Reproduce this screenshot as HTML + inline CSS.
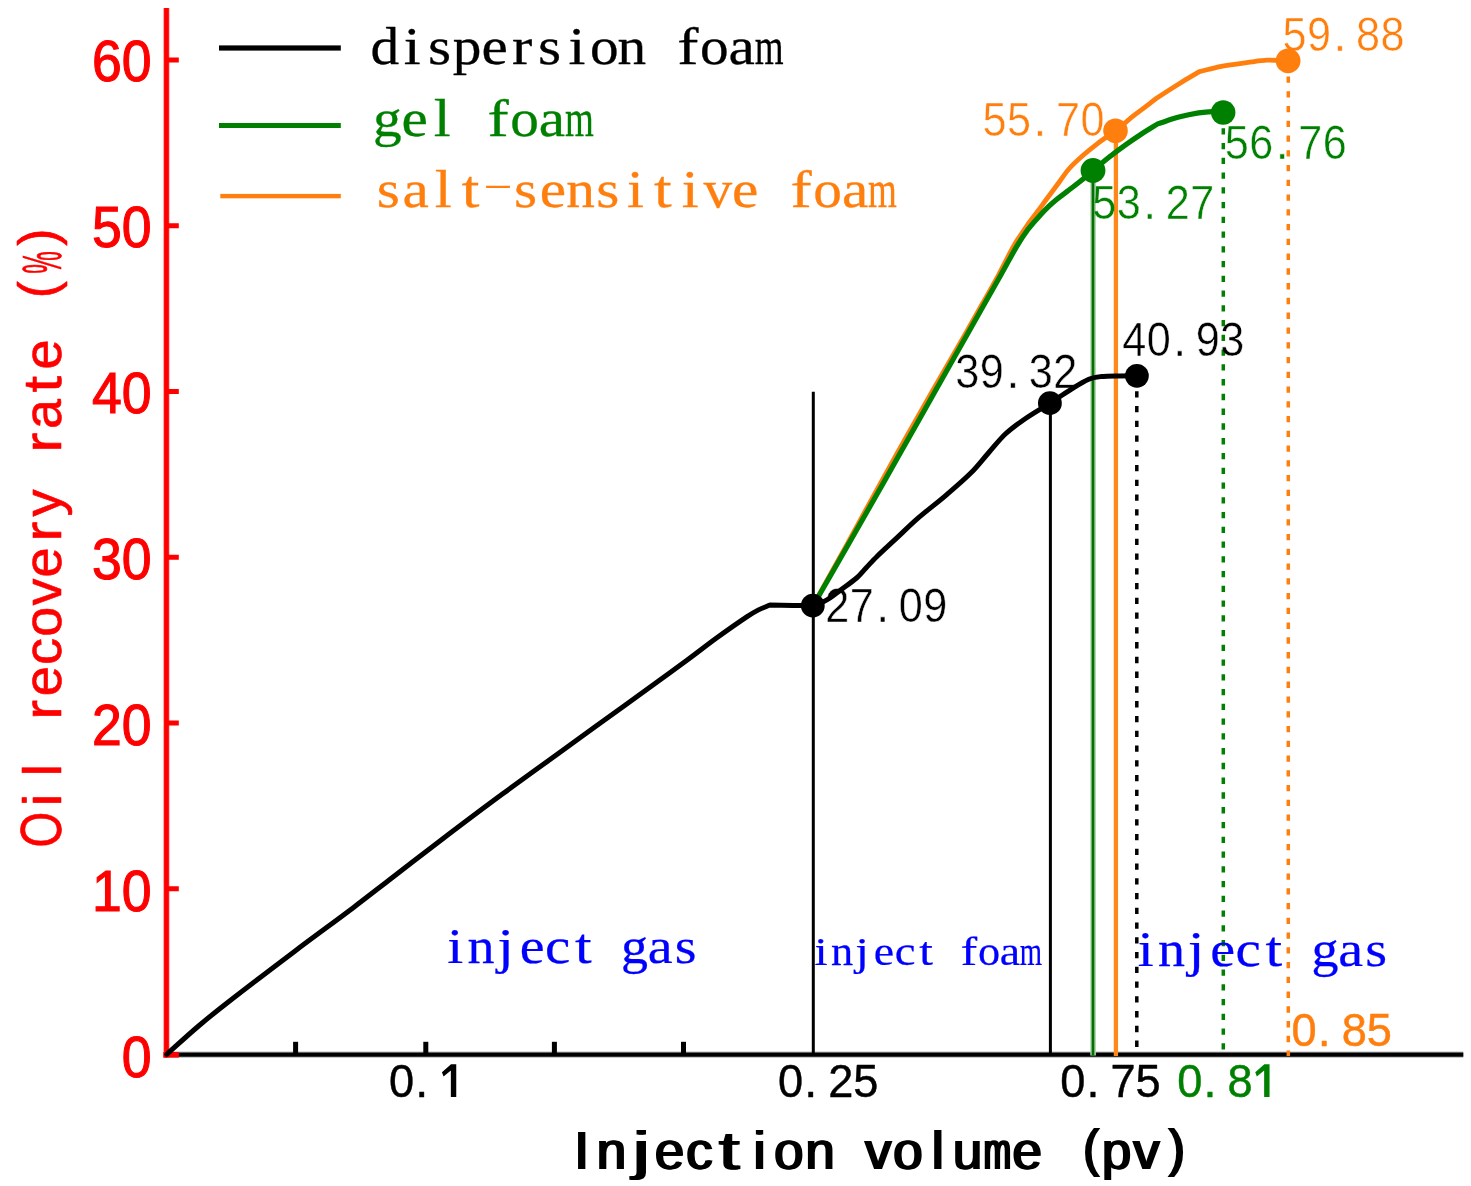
<!DOCTYPE html>
<html><head><meta charset="utf-8"><title>Oil recovery rate vs injection volume</title>
<style>html,body{margin:0;padding:0;background:#fff;}body{width:1471px;height:1186px;overflow:hidden;font-family:"Liberation Sans",sans-serif;}svg{display:block;filter:blur(0.55px);}</style>
</head><body>
<svg width="1471" height="1186" viewBox="0 0 1471 1186">
<rect x="163.3" y="8" width="6.2" height="1049.6" fill="#ff8a8a"/>
<rect x="164.1" y="8" width="4.7" height="1049.6" fill="#ff0000"/>
<rect x="168" y="57.50" width="10.8" height="5" fill="#ff0000"/>
<rect x="168" y="223.25" width="10.8" height="5" fill="#ff0000"/>
<rect x="168" y="389.00" width="10.8" height="5" fill="#ff0000"/>
<rect x="168" y="554.75" width="10.8" height="5" fill="#ff0000"/>
<rect x="168" y="720.50" width="10.8" height="5" fill="#ff0000"/>
<rect x="168" y="886.25" width="10.8" height="5" fill="#ff0000"/>
<rect x="168" y="1051.6" width="1295.3" height="6.0" fill="#a6a6a6"/>
<rect x="168" y="1052.6" width="1295.3" height="4.1" fill="#000000"/>
<rect x="293.10" y="1041.8" width="5" height="12" fill="#000000"/>
<rect x="423.30" y="1041.8" width="5" height="12" fill="#000000"/>
<rect x="551.90" y="1041.8" width="5" height="12" fill="#000000"/>
<rect x="681.00" y="1041.8" width="5" height="12" fill="#000000"/>
<rect x="163.3" y="1052" width="15.6" height="5.6" fill="#ff0000"/>
<g font-family='"Liberation Sans", sans-serif' font-size="57" fill="#ff0000" stroke="#ff0000" stroke-width="1.1" text-anchor="end"><text transform="translate(151.6,81.00) scale(0.94,1)">60</text><text transform="translate(151.6,247.08) scale(0.94,1)">50</text><text transform="translate(151.6,413.16) scale(0.94,1)">40</text><text transform="translate(151.6,579.24) scale(0.94,1)">30</text><text transform="translate(151.6,745.32) scale(0.94,1)">20</text><text transform="translate(151.6,911.40) scale(0.94,1)">10</text><text transform="translate(151.6,1077.48) scale(0.94,1)">0</text></g>
<line x1="813.3" y1="391.8" x2="813.3" y2="1054" stroke="#000000" stroke-width="3.0"/>
<line x1="1050.4" y1="403" x2="1050.4" y2="1054" stroke="#000000" stroke-width="3.0"/>
<line x1="1093.1" y1="171" x2="1093.1" y2="1055.5" stroke="#a9d6a9" stroke-width="5.6"/>
<line x1="1093.0" y1="171" x2="1093.0" y2="1055.5" stroke="#056e05" stroke-width="2.7"/>
<line x1="1115.9" y1="131" x2="1115.9" y2="1056" stroke="#ff8818" stroke-width="4.3"/>
<line x1="1136.8" y1="376.4" x2="1136.8" y2="1050" stroke="#000000" stroke-width="3.5" stroke-dasharray="6.3 8.46"/>
<line x1="1223.3" y1="113.4" x2="1223.3" y2="1052" stroke="#008000" stroke-width="3.5" stroke-dasharray="6.3 8.46"/>
<line x1="1288.3" y1="61.7" x2="1288.3" y2="1056" stroke="#ff7f0e" stroke-width="3.5" stroke-dasharray="6.3 8.46"/>
<path d="M813.8,604.3 C819.3,594.3 824.8,584.3 830.3,574.3 C835.8,564.3 841.5,554.3 847.0,544.3 C852.5,534.3 857.9,524.3 863.4,514.3 C868.9,504.3 874.4,494.3 879.9,484.3 C885.4,474.3 890.9,464.3 896.5,454.3 C902.1,444.3 907.9,434.3 913.6,424.3 C919.3,414.3 924.9,404.3 930.6,394.3 C936.3,384.3 942.1,374.3 947.9,364.3 C953.7,354.3 959.5,344.3 965.2,334.3 C970.9,324.3 976.5,314.3 982.1,304.3 C987.7,294.3 993.4,284.4 998.9,274.3 C1004.2,264.6 1008.8,254.5 1014.3,245.0 C1018.5,237.8 1023.3,231.0 1028.0,224.2 C1031.3,219.4 1035.0,214.9 1038.5,210.2 C1041.4,206.3 1044.1,202.4 1047.0,198.5 C1049.0,195.8 1051.0,193.2 1053.0,190.5 C1055.3,187.3 1057.7,184.2 1060.0,181.0 C1063.1,176.8 1065.8,172.4 1069.3,168.5 C1073.7,163.6 1078.7,159.2 1083.7,154.8 C1088.0,151.0 1092.6,147.3 1097.2,143.8 C1103.1,139.3 1109.4,135.3 1115.3,130.8 C1121.8,125.8 1127.9,120.3 1134.3,115.2 C1139.4,111.1 1144.8,107.4 1150.0,103.4 C1152.3,101.7 1154.5,99.7 1156.9,98.1 C1164.6,92.9 1172.5,87.9 1180.4,83.0 C1186.7,79.1 1193.1,75.4 1199.4,71.6 L1199.4,71.6 C1206.7,69.8 1214.0,67.7 1221.4,66.3 C1231.4,64.4 1241.6,63.3 1251.7,61.9 C1256.8,61.2 1261.8,60.4 1266.9,60.2 C1273.9,60.0 1281.0,60.6 1288.0,60.8" fill="none" stroke="#ff7f0e" stroke-width="4.8" stroke-linejoin="round" stroke-linecap="round"/>
<path d="M813.8,604.5 C819.6,594.5 825.3,584.5 831.1,574.5 C836.8,564.5 842.6,554.5 848.3,544.5 C854.0,534.5 859.7,524.5 865.4,514.5 C871.1,504.5 876.8,494.5 882.5,484.5 C888.2,474.5 893.8,464.5 899.4,454.5 C905.1,444.5 910.7,434.5 916.4,424.5 C922.0,414.5 927.7,404.5 933.3,394.5 C938.9,384.5 944.6,374.5 950.2,364.5 C955.9,354.5 961.5,344.5 967.2,334.5 C972.8,324.5 978.5,314.5 984.1,304.5 C989.8,294.5 995.5,284.5 1001.1,274.5 C1006.3,265.3 1011.2,255.8 1016.6,246.7 C1020.0,240.9 1023.7,235.2 1027.7,229.8 C1031.3,224.9 1035.4,220.5 1039.5,216.0 C1042.5,212.6 1045.7,209.4 1049.0,206.2 C1051.6,203.7 1054.4,201.3 1057.2,199.0 C1061.0,195.9 1065.1,193.0 1069.0,190.0 C1072.7,187.2 1076.4,184.5 1080.0,181.6 C1084.4,178.0 1088.6,174.2 1093.0,170.5 C1098.3,166.1 1103.6,161.6 1109.0,157.3 C1114.5,153.0 1120.2,148.8 1125.9,144.7 C1130.5,141.4 1135.2,138.1 1140.0,135.0 C1145.8,131.2 1151.8,127.6 1157.7,123.9 L1157.7,123.9 C1164.8,121.6 1171.7,119.0 1178.9,117.1 C1185.4,115.4 1192.0,114.0 1198.6,112.9 C1203.1,112.2 1207.7,111.7 1212.3,111.6 C1216.0,111.5 1219.6,112.1 1223.3,112.4" fill="none" stroke="#008000" stroke-width="5.2" stroke-linejoin="round" stroke-linecap="round"/>
<path d="M166.8,1054.3 C177.2,1045.0 187.4,1035.5 198.0,1026.5 C208.4,1017.6 219.1,1009.1 229.9,1000.7 C251.3,984.1 272.9,967.7 294.5,951.4 C314.2,936.5 334.2,922.1 353.9,907.2 C365.3,898.6 376.6,889.7 387.9,881.0 C405.7,867.3 423.3,853.6 441.2,840.0 C461.5,824.6 481.9,809.2 502.4,794.1 C522.6,779.2 543.1,764.6 563.5,749.8 C583.9,735.0 604.3,720.2 624.7,705.4 C645.1,690.6 665.6,676.0 685.9,661.1 C696.2,653.6 706.2,645.6 716.5,638.1 C726.6,630.8 736.8,623.6 747.1,616.7 C750.8,614.2 754.6,611.9 758.5,609.9 C762.2,608.0 766.2,606.6 770.0,605.0 L770.0,605.0 C777.7,605.1 785.3,605.3 793.0,605.4 C799.6,605.5 806.2,605.7 812.8,605.8 L812.8,605.8 C815.9,604.7 819.0,603.8 822.0,602.4 C824.8,601.1 827.5,599.7 830.0,598.0 C833.5,595.7 836.7,593.0 840.0,590.5 C845.5,586.3 851.4,582.5 856.6,578.0 C860.1,575.0 862.9,571.3 866.0,568.0 C869.6,564.2 873.0,560.3 876.7,556.7 C882.5,551.1 888.5,545.7 894.4,540.2 C902.3,532.9 909.9,525.3 918.0,518.2 C927.4,510.1 937.4,502.7 946.8,494.6 C955.1,487.5 963.5,480.4 971.3,472.6 C977.4,466.5 982.7,459.5 988.4,453.0 C994.1,446.6 999.3,439.7 1005.6,433.8 C1011.6,428.2 1018.4,423.4 1025.2,418.7 C1033.2,413.2 1041.7,408.4 1049.9,403.2 C1056.4,399.1 1062.7,394.6 1069.2,390.6 C1075.6,386.7 1081.9,382.3 1088.8,379.3 C1092.6,377.6 1096.9,377.1 1101.0,376.6 C1107.0,375.9 1113.0,376.0 1119.0,375.9 C1125.0,375.8 1130.9,375.8 1136.9,375.8" fill="none" stroke="#000000" stroke-width="5.0" stroke-linejoin="round" stroke-linecap="round"/>
<circle cx="812.8" cy="605.7" r="11.9" fill="#000000"/>
<circle cx="1049.9" cy="403.2" r="11.9" fill="#000000"/>
<circle cx="1136.9" cy="375.8" r="11.9" fill="#000000"/>
<circle cx="1093.0" cy="170.5" r="12.4" fill="#008000"/>
<circle cx="1223.2" cy="112.5" r="12.2" fill="#008000"/>
<circle cx="1115.5" cy="130.8" r="12.3" fill="#ff7f0e"/>
<circle cx="1288.1" cy="60.8" r="12.4" fill="#ff7f0e"/>
<rect x="219" y="45.40" width="121.8" height="5.2" fill="#000000"/>
<rect x="219" y="123.00" width="121.8" height="5.0" fill="#008000"/>
<rect x="220.3" y="193.90" width="120.5" height="4.4" fill="#ff7f0e"/>
<g font-family='"Liberation Serif", serif' font-size="53" font-weight="normal" fill="#000000" text-anchor="middle" stroke="#000000" stroke-width="0.3" stroke-linejoin="round"><text transform="translate(384.73,64.00) scale(1.080,1.000)">d</text><text transform="translate(412.19,64.00) scale(1.150,1.000)">i</text><text transform="translate(439.65,64.00) scale(1.120,1.000)">s</text><text transform="translate(467.11,64.00) scale(1.080,1.000)">p</text><text transform="translate(494.57,64.00) scale(1.120,1.000)">e</text><text transform="translate(522.03,64.00) scale(1.150,1.000)">r</text><text transform="translate(549.49,64.00) scale(1.120,1.000)">s</text><text transform="translate(576.95,64.00) scale(1.150,1.000)">i</text><text transform="translate(604.41,64.00) scale(1.080,1.000)">o</text><text transform="translate(631.87,64.00) scale(1.080,1.000)">n</text><text transform="translate(687.79,64.00) scale(1.200,1.000)">f</text><text transform="translate(714.25,64.00) scale(1.080,1.000)">o</text><text transform="translate(741.71,64.00) scale(1.120,1.000)">a</text><text transform="translate(769.17,64.00) scale(0.700,1.000)">m</text></g>
<g font-family='"Liberation Serif", serif' font-size="53" font-weight="normal" fill="#008000" text-anchor="middle" stroke="#008000" stroke-width="0.3" stroke-linejoin="round"><text transform="translate(387.23,136.30) scale(1.080,1.000)">g</text><text transform="translate(414.69,136.30) scale(1.120,1.000)">e</text><text transform="translate(442.15,136.30) scale(1.150,1.000)">l</text><text transform="translate(498.07,136.30) scale(1.200,1.000)">f</text><text transform="translate(524.53,136.30) scale(1.080,1.000)">o</text><text transform="translate(551.99,136.30) scale(1.120,1.000)">a</text><text transform="translate(579.45,136.30) scale(0.700,1.000)">m</text></g>
<g font-family='"Liberation Serif", serif' font-size="53" font-weight="normal" fill="#ff7f0e" text-anchor="middle" stroke="#ff7f0e" stroke-width="0.3" stroke-linejoin="round"><text transform="translate(388.23,207.40) scale(1.120,1.000)">s</text><text transform="translate(415.69,207.40) scale(1.120,1.000)">a</text><text transform="translate(443.15,207.40) scale(1.150,1.000)">l</text><text transform="translate(470.61,207.40) scale(1.200,1.000)">t</text><text transform="translate(498.07,193.90) scale(1.700,0.550)">-</text><text transform="translate(525.53,207.40) scale(1.120,1.000)">s</text><text transform="translate(552.99,207.40) scale(1.120,1.000)">e</text><text transform="translate(580.45,207.40) scale(1.080,1.000)">n</text><text transform="translate(607.91,207.40) scale(1.120,1.000)">s</text><text transform="translate(635.37,207.40) scale(1.150,1.000)">i</text><text transform="translate(662.83,207.40) scale(1.200,1.000)">t</text><text transform="translate(690.29,207.40) scale(1.150,1.000)">i</text><text transform="translate(717.75,207.40) scale(1.080,1.000)">v</text><text transform="translate(745.21,207.40) scale(1.120,1.000)">e</text><text transform="translate(801.13,207.40) scale(1.200,1.000)">f</text><text transform="translate(827.59,207.40) scale(1.080,1.000)">o</text><text transform="translate(855.05,207.40) scale(1.120,1.000)">a</text><text transform="translate(882.51,207.40) scale(0.700,1.000)">m</text></g>
<g font-family='"Liberation Serif", serif' font-size="50" font-weight="normal" fill="#0000ff" text-anchor="middle" stroke="#0000ff" stroke-width="0.25" stroke-linejoin="round"><text transform="translate(455.30,962.60) scale(1.150,1.000)">i</text><text transform="translate(480.90,962.60) scale(1.080,1.000)">n</text><text transform="translate(505.50,962.60) scale(1.200,1.000)">j</text><text transform="translate(532.10,962.60) scale(1.120,1.000)">e</text><text transform="translate(557.70,962.60) scale(1.140,1.000)">c</text><text transform="translate(583.30,962.60) scale(1.200,1.000)">t</text><text transform="translate(634.50,962.60) scale(1.080,1.000)">g</text><text transform="translate(660.10,962.60) scale(1.120,1.000)">a</text><text transform="translate(685.70,962.60) scale(1.120,1.000)">s</text></g>
<g font-family='"Liberation Serif", serif' font-size="41" font-weight="normal" fill="#0000ff" text-anchor="middle" stroke="#0000ff" stroke-width="0.25" stroke-linejoin="round"><text transform="translate(821.00,964.90) scale(1.150,1.000)">i</text><text transform="translate(842.00,964.90) scale(1.080,1.000)">n</text><text transform="translate(862.00,964.90) scale(1.200,1.000)">j</text><text transform="translate(884.00,964.90) scale(1.120,1.000)">e</text><text transform="translate(905.00,964.90) scale(1.140,1.000)">c</text><text transform="translate(926.00,964.90) scale(1.200,1.000)">t</text><text transform="translate(969.00,964.90) scale(1.200,1.000)">f</text><text transform="translate(989.00,964.90) scale(1.080,1.000)">o</text><text transform="translate(1010.00,964.90) scale(1.120,1.000)">a</text><text transform="translate(1031.00,964.90) scale(0.700,1.000)">m</text></g>
<g font-family='"Liberation Serif", serif' font-size="50" font-weight="normal" fill="#0000ff" text-anchor="middle" stroke="#0000ff" stroke-width="0.25" stroke-linejoin="round"><text transform="translate(1145.80,965.60) scale(1.150,1.000)">i</text><text transform="translate(1171.40,965.60) scale(1.080,1.000)">n</text><text transform="translate(1196.00,965.60) scale(1.200,1.000)">j</text><text transform="translate(1222.60,965.60) scale(1.120,1.000)">e</text><text transform="translate(1248.20,965.60) scale(1.140,1.000)">c</text><text transform="translate(1273.80,965.60) scale(1.200,1.000)">t</text><text transform="translate(1325.00,965.60) scale(1.080,1.000)">g</text><text transform="translate(1350.60,965.60) scale(1.120,1.000)">a</text><text transform="translate(1376.20,965.60) scale(1.120,1.000)">s</text></g>
<mask id="m1" maskUnits="userSpaceOnUse" x="812.9" y="573.8" width="146.5" height="64.8"><g font-family='"Liberation Sans", sans-serif' font-size="48" font-weight="normal" fill="#fff" stroke="#000" stroke-width="0.6" text-anchor="middle"><text transform="translate(837.15,621.80) scale(0.900,1.000)">2</text><text transform="translate(861.65,621.80) scale(0.900,1.000)">7</text><text transform="translate(882.65,621.80) scale(1.000,1.000)">.</text><text transform="translate(910.65,621.80) scale(0.900,1.000)">0</text><text transform="translate(935.15,621.80) scale(0.900,1.000)">9</text></g></mask>
<rect x="812.9" y="573.8" width="146.5" height="64.8" fill="#000000" mask="url(#m1)"/>
<mask id="m2" maskUnits="userSpaceOnUse" x="943.1" y="340.4" width="146.5" height="64.8"><g font-family='"Liberation Sans", sans-serif' font-size="48" font-weight="normal" fill="#fff" stroke="#000" stroke-width="0.6" text-anchor="middle"><text transform="translate(967.35,388.40) scale(0.900,1.000)">3</text><text transform="translate(991.85,388.40) scale(0.900,1.000)">9</text><text transform="translate(1012.85,388.40) scale(1.000,1.000)">.</text><text transform="translate(1040.85,388.40) scale(0.900,1.000)">3</text><text transform="translate(1065.35,388.40) scale(0.900,1.000)">2</text></g></mask>
<rect x="943.1" y="340.4" width="146.5" height="64.8" fill="#000000" mask="url(#m2)"/>
<mask id="m3" maskUnits="userSpaceOnUse" x="1109.9" y="308.3" width="146.5" height="64.8"><g font-family='"Liberation Sans", sans-serif' font-size="48" font-weight="normal" fill="#fff" stroke="#000" stroke-width="0.6" text-anchor="middle"><text transform="translate(1134.15,356.30) scale(0.900,1.000)">4</text><text transform="translate(1158.65,356.30) scale(0.900,1.000)">0</text><text transform="translate(1179.65,356.30) scale(1.000,1.000)">.</text><text transform="translate(1207.65,356.30) scale(0.900,1.000)">9</text><text transform="translate(1232.15,356.30) scale(0.900,1.000)">3</text></g></mask>
<rect x="1109.9" y="308.3" width="146.5" height="64.8" fill="#000000" mask="url(#m3)"/>
<mask id="m4" maskUnits="userSpaceOnUse" x="1079.9" y="171.2" width="146.5" height="64.8"><g font-family='"Liberation Sans", sans-serif' font-size="48" font-weight="normal" fill="#fff" stroke="#000" stroke-width="0.6" text-anchor="middle"><text transform="translate(1104.15,219.20) scale(0.900,1.000)">5</text><text transform="translate(1128.65,219.20) scale(0.900,1.000)">3</text><text transform="translate(1149.65,219.20) scale(1.000,1.000)">.</text><text transform="translate(1177.65,219.20) scale(0.900,1.000)">2</text><text transform="translate(1202.15,219.20) scale(0.900,1.000)">7</text></g></mask>
<rect x="1079.9" y="171.2" width="146.5" height="64.8" fill="#008000" mask="url(#m4)"/>
<mask id="m5" maskUnits="userSpaceOnUse" x="1212.4" y="111.4" width="146.5" height="64.8"><g font-family='"Liberation Sans", sans-serif' font-size="48" font-weight="normal" fill="#fff" stroke="#000" stroke-width="0.6" text-anchor="middle"><text transform="translate(1236.65,159.40) scale(0.900,1.000)">5</text><text transform="translate(1261.15,159.40) scale(0.900,1.000)">6</text><text transform="translate(1282.15,159.40) scale(1.000,1.000)">.</text><text transform="translate(1310.15,159.40) scale(0.900,1.000)">7</text><text transform="translate(1334.65,159.40) scale(0.900,1.000)">6</text></g></mask>
<rect x="1212.4" y="111.4" width="146.5" height="64.8" fill="#008000" mask="url(#m5)"/>
<mask id="m6" maskUnits="userSpaceOnUse" x="970.2" y="88.2" width="146.5" height="64.8"><g font-family='"Liberation Sans", sans-serif' font-size="48" font-weight="normal" fill="#fff" stroke="#000" stroke-width="0.6" text-anchor="middle"><text transform="translate(994.45,136.20) scale(0.900,1.000)">5</text><text transform="translate(1018.95,136.20) scale(0.900,1.000)">5</text><text transform="translate(1039.95,136.20) scale(1.000,1.000)">.</text><text transform="translate(1067.95,136.20) scale(0.900,1.000)">7</text><text transform="translate(1092.45,136.20) scale(0.900,1.000)">0</text></g></mask>
<rect x="970.2" y="88.2" width="146.5" height="64.8" fill="#ff7f0e" mask="url(#m6)"/>
<mask id="m7" maskUnits="userSpaceOnUse" x="1270.2" y="2.8" width="146.5" height="64.8"><g font-family='"Liberation Sans", sans-serif' font-size="48" font-weight="normal" fill="#fff" stroke="#000" stroke-width="0.6" text-anchor="middle"><text transform="translate(1294.45,50.80) scale(0.900,1.000)">5</text><text transform="translate(1318.95,50.80) scale(0.900,1.000)">9</text><text transform="translate(1339.95,50.80) scale(1.000,1.000)">.</text><text transform="translate(1367.95,50.80) scale(0.900,1.000)">8</text><text transform="translate(1392.45,50.80) scale(0.900,1.000)">8</text></g></mask>
<rect x="1270.2" y="2.8" width="146.5" height="64.8" fill="#ff7f0e" mask="url(#m7)"/>
<g font-family='"Liberation Sans", sans-serif' font-size="46.6" font-weight="normal" fill="#ff7f0e" text-anchor="middle" stroke="#ff7f0e" stroke-width="0.45" stroke-linejoin="round"><text transform="translate(1304.05,1045.90) scale(0.970,1.000)">0</text><text transform="translate(1324.25,1045.90) scale(1.000,1.000)">.</text><text transform="translate(1354.25,1045.90) scale(0.970,1.000)">8</text><text transform="translate(1379.35,1045.90) scale(0.970,1.000)">5</text></g>
<g font-family='"Liberation Sans", sans-serif' font-size="46.6" font-weight="normal" fill="#000000" text-anchor="middle" stroke="#000000" stroke-width="0.45" stroke-linejoin="round"><text transform="translate(401.55,1096.60) scale(0.970,1.000)">0</text><text transform="translate(421.75,1096.60) scale(1.000,1.000)">.</text><polygon points="451.05,1064.30 456.25,1064.30 456.25,1096.90 450.85,1096.90 450.85,1070.60 443.55,1076.40 441.95,1072.30" stroke="none"/></g>
<g font-family='"Liberation Sans", sans-serif' font-size="46.6" font-weight="normal" fill="#000000" text-anchor="middle" stroke="#000000" stroke-width="0.45" stroke-linejoin="round"><text transform="translate(790.55,1096.60) scale(0.970,1.000)">0</text><text transform="translate(810.75,1096.60) scale(1.000,1.000)">.</text><text transform="translate(840.75,1096.60) scale(0.970,1.000)">2</text><text transform="translate(865.85,1096.60) scale(0.970,1.000)">5</text></g>
<g font-family='"Liberation Sans", sans-serif' font-size="46.6" font-weight="normal" fill="#000000" text-anchor="middle" stroke="#000000" stroke-width="0.45" stroke-linejoin="round"><text transform="translate(1072.75,1096.60) scale(0.970,1.000)">0</text><text transform="translate(1092.95,1096.60) scale(1.000,1.000)">.</text><text transform="translate(1122.95,1096.60) scale(0.970,1.000)">7</text><text transform="translate(1148.05,1096.60) scale(0.970,1.000)">5</text></g>
<g font-family='"Liberation Sans", sans-serif' font-size="46.6" font-weight="normal" fill="#008000" text-anchor="middle" stroke="#008000" stroke-width="0.45" stroke-linejoin="round"><text transform="translate(1189.75,1096.60) scale(0.970,1.000)">0</text><text transform="translate(1209.95,1096.60) scale(1.000,1.000)">.</text><text transform="translate(1239.95,1096.60) scale(0.970,1.000)">8</text><polygon points="1264.35,1064.30 1269.55,1064.30 1269.55,1096.90 1264.15,1096.90 1264.15,1070.60 1256.85,1076.40 1255.25,1072.30" stroke="none"/></g>
<g font-family='"Liberation Sans", sans-serif' font-size="54.5" font-weight="normal" fill="#000000" text-anchor="middle"><text transform="translate(580.50,1168.70) scale(1.000,1.000)">I</text><text transform="translate(581.70,1168.70) scale(1.000,1.000)">I</text><text transform="translate(582.90,1168.70) scale(1.000,1.000)">I</text><text transform="translate(610.30,1168.70) scale(0.970,1.000)">n</text><text transform="translate(611.50,1168.70) scale(0.970,1.000)">n</text><text transform="translate(612.70,1168.70) scale(0.970,1.000)">n</text><text transform="translate(640.10,1168.70) scale(1.450,1.000)">j</text><text transform="translate(641.30,1168.70) scale(1.450,1.000)">j</text><text transform="translate(642.50,1168.70) scale(1.450,1.000)">j</text><text transform="translate(668.40,1168.70) scale(0.970,1.000)">e</text><text transform="translate(669.60,1168.70) scale(0.970,1.000)">e</text><text transform="translate(670.80,1168.70) scale(0.970,1.000)">e</text><text transform="translate(698.20,1168.70) scale(0.970,1.000)">c</text><text transform="translate(699.40,1168.70) scale(0.970,1.000)">c</text><text transform="translate(700.60,1168.70) scale(0.970,1.000)">c</text><text transform="translate(728.00,1168.70) scale(1.400,1.000)">t</text><text transform="translate(729.20,1168.70) scale(1.400,1.000)">t</text><text transform="translate(730.40,1168.70) scale(1.400,1.000)">t</text><text transform="translate(758.30,1168.70) scale(1.000,1.000)">i</text><text transform="translate(759.50,1168.70) scale(1.000,1.000)">i</text><text transform="translate(760.70,1168.70) scale(1.000,1.000)">i</text><text transform="translate(787.60,1168.70) scale(0.970,1.000)">o</text><text transform="translate(788.80,1168.70) scale(0.970,1.000)">o</text><text transform="translate(790.00,1168.70) scale(0.970,1.000)">o</text><text transform="translate(818.90,1168.70) scale(0.970,1.000)">n</text><text transform="translate(820.10,1168.70) scale(0.970,1.000)">n</text><text transform="translate(821.30,1168.70) scale(0.970,1.000)">n</text><text transform="translate(877.00,1168.70) scale(0.970,1.000)">v</text><text transform="translate(878.20,1168.70) scale(0.970,1.000)">v</text><text transform="translate(879.40,1168.70) scale(0.970,1.000)">v</text><text transform="translate(906.80,1168.70) scale(0.970,1.000)">o</text><text transform="translate(908.00,1168.70) scale(0.970,1.000)">o</text><text transform="translate(909.20,1168.70) scale(0.970,1.000)">o</text><text transform="translate(936.60,1168.70) scale(1.000,1.000)">l</text><text transform="translate(937.80,1168.70) scale(1.000,1.000)">l</text><text transform="translate(939.00,1168.70) scale(1.000,1.000)">l</text><text transform="translate(966.40,1168.70) scale(0.970,1.000)">u</text><text transform="translate(967.60,1168.70) scale(0.970,1.000)">u</text><text transform="translate(968.80,1168.70) scale(0.970,1.000)">u</text><text transform="translate(996.20,1168.70) scale(0.600,1.000)">m</text><text transform="translate(997.40,1168.70) scale(0.600,1.000)">m</text><text transform="translate(998.60,1168.70) scale(0.600,1.000)">m</text><text transform="translate(1026.00,1168.70) scale(0.970,1.000)">e</text><text transform="translate(1027.20,1168.70) scale(0.970,1.000)">e</text><text transform="translate(1028.40,1168.70) scale(0.970,1.000)">e</text><text transform="translate(1090.10,1165.70) scale(0.900,0.950)">(</text><text transform="translate(1091.30,1165.70) scale(0.900,0.950)">(</text><text transform="translate(1092.50,1165.70) scale(0.900,0.950)">(</text><text transform="translate(1115.40,1168.70) scale(0.970,1.000)">p</text><text transform="translate(1116.60,1168.70) scale(0.970,1.000)">p</text><text transform="translate(1117.80,1168.70) scale(0.970,1.000)">p</text><text transform="translate(1145.20,1168.70) scale(0.970,1.000)">v</text><text transform="translate(1146.40,1168.70) scale(0.970,1.000)">v</text><text transform="translate(1147.60,1168.70) scale(0.970,1.000)">v</text><text transform="translate(1175.50,1165.70) scale(0.900,0.950)">)</text><text transform="translate(1176.70,1165.70) scale(0.900,0.950)">)</text><text transform="translate(1177.90,1165.70) scale(0.900,0.950)">)</text></g>
<g font-family='"Liberation Sans", sans-serif' font-size="54" font-weight="normal" fill="#ff0000" text-anchor="middle" stroke="#ff0000" stroke-width="0.6" stroke-linejoin="round" transform="translate(61.4,829.7) rotate(-90)"><text transform="translate(0.00,0.00) scale(0.850,1.070)">O</text><text transform="translate(29.70,0.00) scale(1.000,1.000)">i</text><text transform="translate(59.40,0.00) scale(1.000,1.000)">l</text><text transform="translate(119.80,0.00) scale(1.100,1.000)">r</text><text transform="translate(148.50,0.00) scale(1.000,1.000)">e</text><text transform="translate(178.20,0.00) scale(1.000,1.000)">c</text><text transform="translate(207.90,0.00) scale(1.000,1.000)">o</text><text transform="translate(237.60,0.00) scale(1.000,1.000)">v</text><text transform="translate(267.30,0.00) scale(1.000,1.000)">e</text><text transform="translate(298.00,0.00) scale(1.100,1.000)">r</text><text transform="translate(326.70,0.00) scale(1.000,1.000)">y</text><text transform="translate(387.10,0.00) scale(1.100,1.000)">r</text><text transform="translate(415.80,0.00) scale(1.000,1.000)">a</text><text transform="translate(445.50,0.00) scale(1.100,1.000)">t</text><text transform="translate(475.20,0.00) scale(1.000,1.000)">e</text><text transform="translate(540.10,-5.00) scale(0.950,1.000)">(</text><text transform="translate(567.30,0.00) scale(0.470,1.030)">%</text><text transform="translate(592.50,-5.00) scale(0.950,1.000)">)</text></g>
</svg>
</body></html>
